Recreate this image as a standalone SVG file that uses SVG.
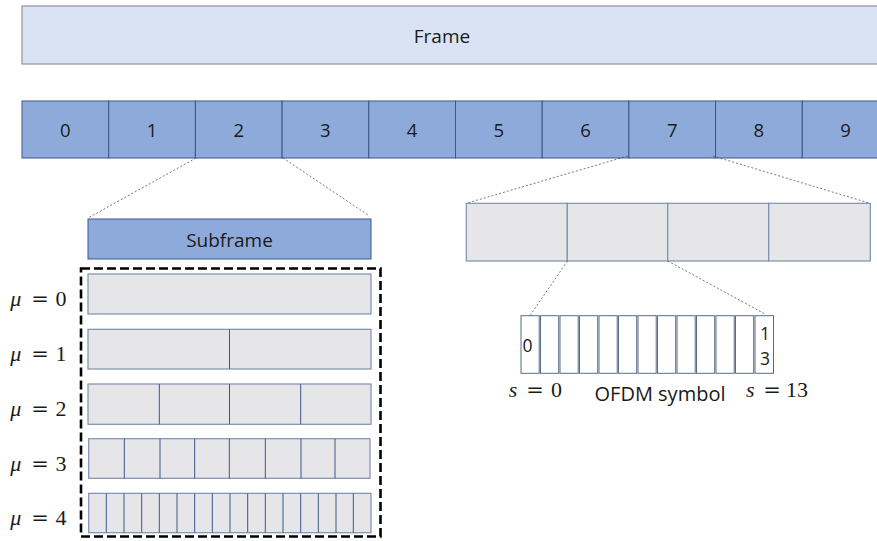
<svg xmlns="http://www.w3.org/2000/svg" width="877" height="541" viewBox="0 0 877 541">
  <style>
    .lbl { font-family: "Open Sans", "Liberation Sans", sans-serif; fill: #1a1a1a; text-anchor: middle; }
    .math { font-family: "Liberation Serif", "DejaVu Serif", serif; fill: #1a1a1a; font-size: 22px; text-anchor: middle; }
    .math .v { font-style: italic; }
    .math .eq { font-family: "DejaVu Serif", "Liberation Serif", serif; font-size: 21px; }
    .frame { fill: #dae3f3; stroke: #8d97a6; stroke-width: 1.2; }
    .sf { fill: #8eaadb; stroke: #3e5688; stroke-width: 1; }
    .slot { fill: #e6e6e8; stroke: #7d8fae; stroke-width: 1.2; }
    .div { stroke: #3e5688; stroke-width: 1; }
    .sym { fill: #ffffff; stroke: #5a6b85; stroke-width: 1; }
    .zoom { fill: none; stroke: #555; stroke-width: 0.8; stroke-dasharray: 2 2; }
    .group { fill: none; stroke: #000; stroke-width: 2.6; stroke-dasharray: 9 4; }
  </style>

  <!-- radio frame -->
  <g id="frame">
    <rect class="frame" x="22" y="6" width="867" height="58"/>
    <text class="lbl" x="442" y="43" font-size="19">Frame</text>
  </g>

  <!-- ten subframes -->
  <g id="subframes">
    <g id="sf0"><rect class="sf" x="22" y="101" width="86.7" height="57"/><text class="lbl" x="65.4" y="137" font-size="18.5">0</text></g>
    <g id="sf1"><rect class="sf" x="108.7" y="101" width="86.7" height="57"/><text class="lbl" x="152" y="137" font-size="18.5">1</text></g>
    <g id="sf2"><rect class="sf" x="195.4" y="101" width="86.7" height="57"/><text class="lbl" x="238.7" y="137" font-size="18.5">2</text></g>
    <g id="sf3"><rect class="sf" x="282.1" y="101" width="86.7" height="57"/><text class="lbl" x="325.4" y="137" font-size="18.5">3</text></g>
    <g id="sf4"><rect class="sf" x="368.8" y="101" width="86.7" height="57"/><text class="lbl" x="412.1" y="137" font-size="18.5">4</text></g>
    <g id="sf5"><rect class="sf" x="455.5" y="101" width="86.7" height="57"/><text class="lbl" x="498.8" y="137" font-size="18.5">5</text></g>
    <g id="sf6"><rect class="sf" x="542.2" y="101" width="86.7" height="57"/><text class="lbl" x="585.5" y="137" font-size="18.5">6</text></g>
    <g id="sf7"><rect class="sf" x="628.9" y="101" width="86.7" height="57"/><text class="lbl" x="672.2" y="137" font-size="18.5">7</text></g>
    <g id="sf8"><rect class="sf" x="715.6" y="101" width="86.7" height="57"/><text class="lbl" x="758.9" y="137" font-size="18.5">8</text></g>
    <g id="sf9"><rect class="sf" x="802.3" y="101" width="86.7" height="57"/><text class="lbl" x="845.6" y="137" font-size="18.5">9</text></g>
  </g>

  <!-- expanded subframe -->
  <g id="subframe">
    <rect class="sf" x="88" y="219" width="283" height="40"/>
    <text class="lbl" x="229.5" y="247" font-size="19">Subframe</text>
  </g>

  <!-- slots per numerology -->
  <g id="numerologies">
    <rect class="group" x="81" y="268.5" width="299.5" height="268"/>

    <g id="mu0">
      <rect class="slot" x="88" y="274" width="283" height="40"/>
      <text class="math" y="306"><tspan class="v" x="15.8">μ</tspan><tspan class="eq" x="40">=</tspan><tspan x="61">0</tspan></text>
    </g>
    <g id="mu1">
      <rect class="slot" x="88" y="329.3" width="283" height="39.7"/>
      <line class="div" x1="229.5" y1="329.3" x2="229.5" y2="369"/>
      <text class="math" y="361"><tspan class="v" x="15.8">μ</tspan><tspan class="eq" x="40">=</tspan><tspan x="61">1</tspan></text>
    </g>
    <g id="mu2">
      <rect class="slot" x="88" y="384" width="283" height="40.3"/>
      <line class="div" x1="159.3" y1="384" x2="159.3" y2="424.3"/>
      <line class="div" x1="229.5" y1="384" x2="229.5" y2="424.3"/>
      <line class="div" x1="300.7" y1="384" x2="300.7" y2="424.3"/>
      <text class="math" y="416"><tspan class="v" x="15.8">μ</tspan><tspan class="eq" x="40">=</tspan><tspan x="61">2</tspan></text>
    </g>
    <g id="mu3">
      <rect class="slot" x="88.7" y="438.7" width="281.3" height="39.6"/>
      <g class="div">
        <line x1="124.3" y1="438.7" x2="124.3" y2="478.3"/>
        <line x1="160" y1="438.7" x2="160" y2="478.3"/>
        <line x1="194.7" y1="438.7" x2="194.7" y2="478.3"/>
        <line x1="229.3" y1="438.7" x2="229.3" y2="478.3"/>
        <line x1="265.3" y1="438.7" x2="265.3" y2="478.3"/>
        <line x1="301" y1="438.7" x2="301" y2="478.3"/>
        <line x1="335" y1="438.7" x2="335" y2="478.3"/>
      </g>
      <text class="math" y="470.5"><tspan class="v" x="15.8">μ</tspan><tspan class="eq" x="40">=</tspan><tspan x="61">3</tspan></text>
    </g>
    <g id="mu4">
      <rect class="slot" x="88.7" y="493.3" width="282.3" height="39.4"/>
      <g class="div">
        <line x1="106.3" y1="493.3" x2="106.3" y2="532.7"/>
        <line x1="124" y1="493.3" x2="124" y2="532.7"/>
        <line x1="141.7" y1="493.3" x2="141.7" y2="532.7"/>
        <line x1="159.3" y1="493.3" x2="159.3" y2="532.7"/>
        <line x1="177" y1="493.3" x2="177" y2="532.7"/>
        <line x1="194.7" y1="493.3" x2="194.7" y2="532.7"/>
        <line x1="212.3" y1="493.3" x2="212.3" y2="532.7"/>
        <line x1="230" y1="493.3" x2="230" y2="532.7"/>
        <line x1="247.7" y1="493.3" x2="247.7" y2="532.7"/>
        <line x1="265.3" y1="493.3" x2="265.3" y2="532.7"/>
        <line x1="283" y1="493.3" x2="283" y2="532.7"/>
        <line x1="300.7" y1="493.3" x2="300.7" y2="532.7"/>
        <line x1="318.3" y1="493.3" x2="318.3" y2="532.7"/>
        <line x1="336" y1="493.3" x2="336" y2="532.7"/>
        <line x1="353.3" y1="493.3" x2="353.3" y2="532.7"/>
      </g>
      <text class="math" y="525"><tspan class="v" x="15.8">μ</tspan><tspan class="eq" x="40">=</tspan><tspan x="61">4</tspan></text>
    </g>
  </g>

  <!-- four slots of subframe 7 -->
  <g id="slots">
    <rect class="slot" x="466.3" y="203.3" width="101" height="57.7"/>
    <rect class="slot" x="567.3" y="203.3" width="100.4" height="57.7"/>
    <rect class="slot" x="667.7" y="203.3" width="101" height="57.7"/>
    <rect class="slot" x="768.7" y="203.3" width="101.6" height="57.7"/>
  </g>

  <!-- OFDM symbols of one slot -->
  <g id="symbols">
    <rect class="sym" x="521" y="315.7" width="18.2" height="57.6"/>
    <rect class="sym" x="540.5" y="315.7" width="18.2" height="57.6"/>
    <rect class="sym" x="560" y="315.7" width="18.2" height="57.6"/>
    <rect class="sym" x="579.5" y="315.7" width="18.2" height="57.6"/>
    <rect class="sym" x="599" y="315.7" width="18.2" height="57.6"/>
    <rect class="sym" x="618.5" y="315.7" width="18.2" height="57.6"/>
    <rect class="sym" x="638" y="315.7" width="18.2" height="57.6"/>
    <rect class="sym" x="657.5" y="315.7" width="18.2" height="57.6"/>
    <rect class="sym" x="677" y="315.7" width="18.2" height="57.6"/>
    <rect class="sym" x="696.5" y="315.7" width="18.2" height="57.6"/>
    <rect class="sym" x="716" y="315.7" width="18.2" height="57.6"/>
    <rect class="sym" x="735.5" y="315.7" width="18.2" height="57.6"/>
    <rect class="sym" x="755" y="315.7" width="18.5" height="57.6"/>
    <text class="lbl" x="527.5" y="351.5" font-size="17.5">0</text>
    <text class="lbl" x="765" y="339.5" font-size="17.5">1</text>
    <text class="lbl" x="765" y="365" font-size="17.5">3</text>
  </g>

  <g id="symbol-labels">
    <text class="math" y="397"><tspan class="v" x="513">s</tspan><tspan class="eq" x="535">=</tspan><tspan x="556.4">0</tspan></text>
    <text class="lbl" x="660" y="401" font-size="20">OFDM symbol</text>
    <text class="math" y="397"><tspan class="v" x="750.4">s</tspan><tspan class="eq" x="772">=</tspan><tspan x="797">13</tspan></text>
  </g>

  <!-- zoom connectors -->
  <g id="connectors">
    <line class="zoom" x1="196" y1="158" x2="88" y2="218"/>
    <line class="zoom" x1="283" y1="158" x2="368" y2="215"/>
    <line class="zoom" x1="627.7" y1="156" x2="466.3" y2="203.3"/>
    <line class="zoom" x1="713" y1="156" x2="870" y2="203.3"/>
    <line class="zoom" x1="567.3" y1="261" x2="530" y2="315.7"/>
    <line class="zoom" x1="667.7" y1="261" x2="765" y2="314"/>
  </g>
</svg>
